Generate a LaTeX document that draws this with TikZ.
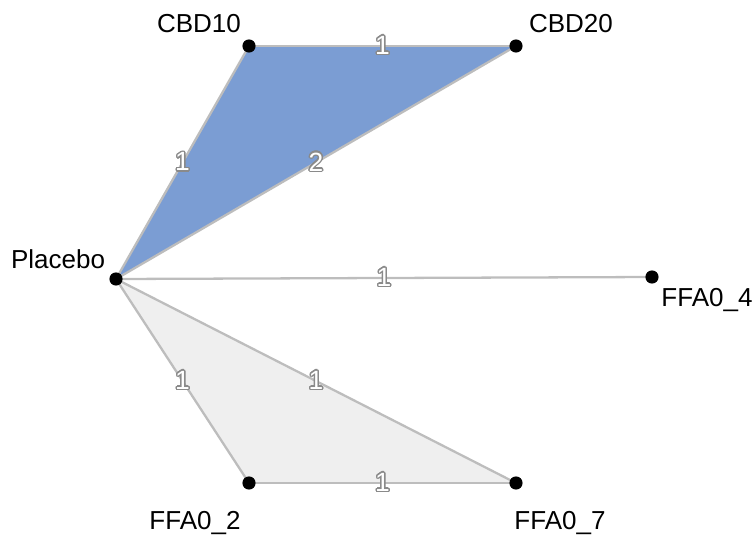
\documentclass[tikz,border=0pt]{standalone}
\usepackage{fontspec}
\setmainfont{Liberation Sans}
\usepackage{xcolor}
\usepackage[copies]{contour}
\usetikzlibrary{positioning,calc}
\definecolor{EdgeGray}{HTML}{BDBDBD}
\definecolor{CbdBlue}{HTML}{7B9DD3}
\definecolor{FfaGray}{HTML}{EFEFEF}
\definecolor{NumGray}{HTML}{8A8A8A}
\contourlength{0.8pt}
\tikzset{
  TR/.style={circle,fill=black,inner sep=0pt,minimum size=7.5pt},
  ED/.style={draw=EdgeGray,line width=1.3pt},
  NL/.style={font=\fontsize{14.8}{17}\selectfont},
  EL/.style={midway,inner sep=0pt,font=\fontsize{15}{17}\selectfont}
}
\newcommand{\ecount}[1]{\contour{NumGray}{\textcolor{white}{#1}}}

\begin{document}
\begin{tikzpicture}[x=0.02cm,y=-0.02cm]
  \useasboundingbox (0,0) rectangle (754,545);
  \coordinate (cbd10) at (249,46);
  \coordinate (cbd20) at (516,46);
  \coordinate (pla) at (116,279);
  \coordinate (ffa4) at (652,277);
  \coordinate (ffa2) at (249,483);
  \coordinate (ffa7) at (516,483);

  % closed loops
  \fill[CbdBlue](pla)--(cbd10)--(cbd20)--cycle;
  \fill[FfaGray](pla)--(ffa2)--(ffa7)--cycle;

  % comparisons
  \draw[ED](cbd10)--(cbd20) node[EL]{\ecount{1}};
  \draw[ED](pla)--(cbd10) node[EL]{\ecount{1}};
  \draw[ED](pla)--(cbd20) node[EL]{\ecount{2}};
  \draw[ED](pla)--(ffa4) node[EL]{\ecount{1}};
  \draw[ED](pla)--(ffa2) node[EL]{\ecount{1}};
  \draw[ED](pla)--(ffa7) node[EL]{\ecount{1}};
  \draw[ED](ffa2)--(ffa7) node[EL]{\ecount{1}};

  % treatments
  \node[TR] (n10) at (cbd10) {};
  \node[TR] (n20) at (cbd20) {};
  \node[TR] (np) at (pla) {};
  \node[TR] (n4) at (ffa4) {};
  \node[TR] (n2) at (ffa2) {};
  \node[TR] (n7) at (ffa7) {};
  \node[NL] (t10) at (199,24) {CBD10};
  \node[NL] (t20) at (571,24) {CBD20};
  \node[NL] (tp) at (58,259) {Placebo};
  \node[NL] (t4) at (707,300) {FFA0\_4};
  \node[NL] (t2) at (195,523) {FFA0\_2};
  \node[NL] (t7) at (560,523) {FFA0\_7};
\end{tikzpicture}
\end{document}
